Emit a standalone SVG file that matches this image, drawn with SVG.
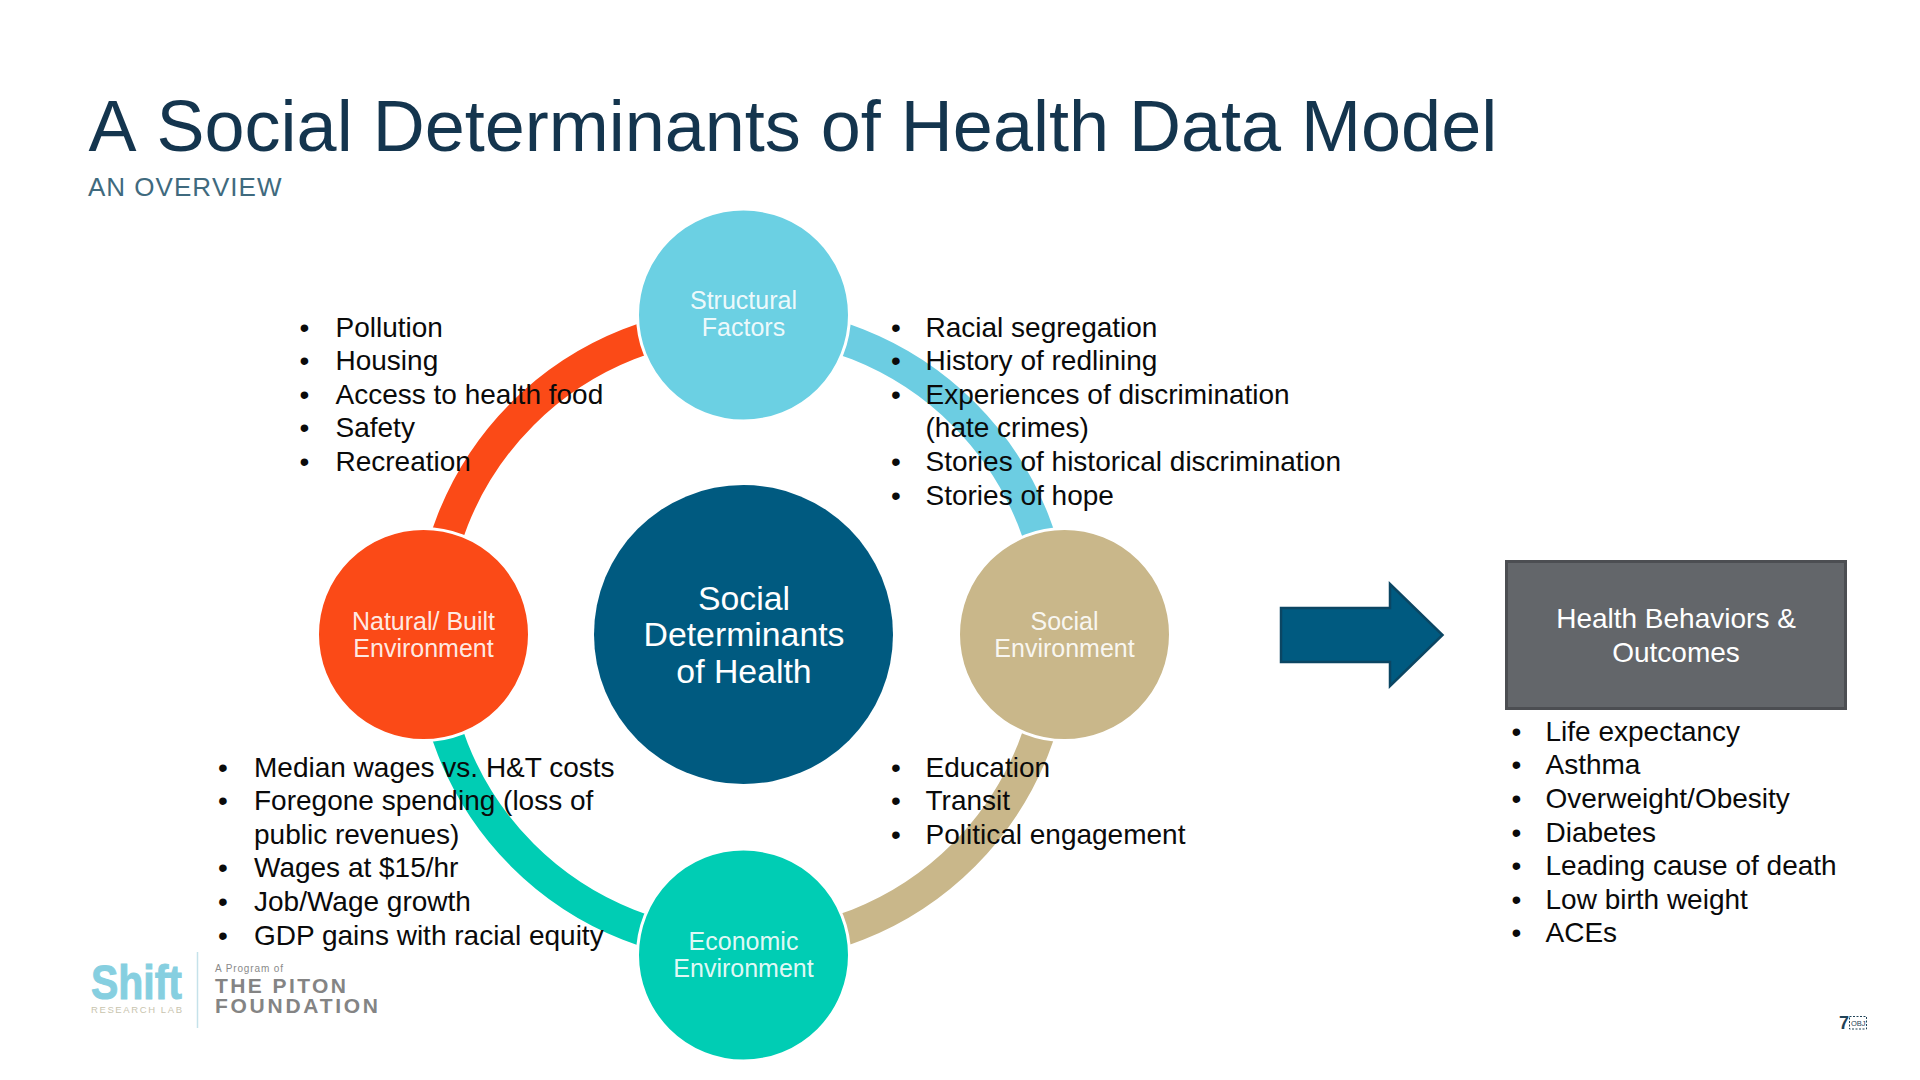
<svg xmlns="http://www.w3.org/2000/svg" width="1920" height="1080" viewBox="0 0 1920 1080">
<style>
text{font-family:"Liberation Sans",Arial,sans-serif}
.l{font-size:28px;fill:#0a0a0a}
.n{font-size:25px;text-anchor:middle;fill:#fff;fill-opacity:.9}
.c{font-size:33.800px;fill:#fff;text-anchor:middle}
.b{font-size:28px;fill:#fff;text-anchor:middle}
.arc{fill:none;stroke-width:32}
.node{stroke:#fff;stroke-width:3}
.t{font-kerning:none}
</style>
<rect width="1920" height="1080" fill="#fff"/>
<g id="heading">
<text class="t" x="88.500" y="150.500" font-size="72" fill="#14354e">A Social Determinants of Health Data Model</text>
<text class="t" x="88" y="196" font-size="26" fill="#3f6a7e" letter-spacing="1">AN OVERVIEW</text>
</g>
<g id="connectors">
<path class="arc" stroke="#6ccde2" d="M743 322.500A312 312 0 0 1 1055 634.500"/>
<path class="arc" stroke="#c9b78a" d="M1055 634.500A312 312 0 0 1 743 946.500"/>
<path class="arc" stroke="#00cdb4" d="M743 946.500A312 312 0 0 1 431 634.500"/>
<path class="arc" stroke="#fb4a17" d="M431 634.500A312 312 0 0 1 743 322.500"/>
</g>
<g id="structural"><circle class="node" cx="743.500" cy="315" r="106" fill="#6bd0e3"/><text class="n" x="743.500" y="309">Structural</text><text class="n" x="743.500" y="336">Factors</text></g>
<g id="natural"><circle class="node" cx="423.500" cy="634.500" r="106" fill="#fb4a17"/><text class="n" x="423.500" y="629.500">Natural/ Built</text><text class="n" x="423.500" y="656.500">Environment</text></g>
<g id="social"><circle class="node" cx="1064.500" cy="634.500" r="106" fill="#c9b78a"/><text class="n" x="1064.500" y="629.500">Social</text><text class="n" x="1064.500" y="656.500">Environment</text></g>
<g id="economic"><circle class="node" cx="743.500" cy="955" r="106" fill="#00cdb4"/><text class="n" x="743.500" y="950">Economic</text><text class="n" x="743.500" y="977">Environment</text></g>
<g id="center"><circle cx="743.500" cy="634.500" r="149.500" fill="#005a80"/><text class="c" x="744" y="610">Social</text><text class="c" x="744" y="646">Determinants</text><text class="c" x="744" y="683">of Health</text></g>
<g id="arrow"><path d="M1281 608H1390V584L1442.500 635L1390 686V662H1281Z" fill="#005a80" stroke="#0b4663" stroke-width="2.500"/></g>
<g id="outcomes-box"><rect x="1506.500" y="561.500" width="339" height="147" fill="#63666a" stroke="#4c4e52" stroke-width="3"/><text class="b" x="1676" y="628">Health Behaviors &amp;</text><text class="b" x="1676" y="662">Outcomes</text></g>
<g id="list-natural" transform="translate(0.500 0.500)">
<text class="l" x="299" y="336">•</text><text class="l" x="335" y="336">Pollution</text>
<text class="l" x="299" y="369.600">•</text><text class="l" x="335" y="369.600">Housing</text>
<text class="l" x="299" y="403.300">•</text><text class="l" x="335" y="403.300">Access to health food</text>
<text class="l" x="299" y="436.900">•</text><text class="l" x="335" y="436.900">Safety</text>
<text class="l" x="299" y="470.500">•</text><text class="l" x="335" y="470.500">Recreation</text>
</g>
<g id="list-structural" transform="translate(0 0.500)">
<text class="l" x="891" y="336">•</text><text class="l" x="925.500" y="336">Racial segregation</text>
<text class="l" x="891" y="369.600">•</text><text class="l" x="925.500" y="369.600">History of redlining</text>
<text class="l" x="891" y="403.200">•</text><text class="l" x="925.500" y="403.200">Experiences of discrimination</text>
<text class="l" x="925.500" y="436.800">(hate crimes)</text>
<text class="l" x="891" y="470.400">•</text><text class="l" x="925.500" y="470.400">Stories of historical discrimination</text>
<text class="l" x="891" y="504">•</text><text class="l" x="925.500" y="504">Stories of hope</text>
</g>
<g id="list-economic" transform="translate(0 0.500)">
<text class="l" x="218" y="776">•</text><text class="l" x="254" y="776">Median wages vs. H&amp;T costs</text>
<text class="l" x="218" y="809.600">•</text><text class="l" x="254" y="809.600">Foregone spending (loss of</text>
<text class="l" x="254" y="843.200">public revenues)</text>
<text class="l" x="218" y="876.800">•</text><text class="l" x="254" y="876.800">Wages at $15/hr</text>
<text class="l" x="218" y="910.400">•</text><text class="l" x="254" y="910.400">Job/Wage growth</text>
<text class="l" x="218" y="944">•</text><text class="l" x="254" y="944">GDP gains with racial equity</text>
</g>
<g id="list-social" transform="translate(0 0.500)">
<text class="l" x="891" y="776">•</text><text class="l" x="925.500" y="776">Education</text>
<text class="l" x="891" y="809.600">•</text><text class="l" x="925.500" y="809.600">Transit</text>
<text class="l" x="891" y="843.200">•</text><text class="l" x="925.500" y="843.200">Political engagement</text>
</g>
<g id="list-outcomes" transform="translate(0.500 0)">
<text class="l" x="1511" y="741">•</text><text class="l" x="1545" y="741">Life expectancy</text>
<text class="l" x="1511" y="774.400">•</text><text class="l" x="1545" y="774.400">Asthma</text>
<text class="l" x="1511" y="808">•</text><text class="l" x="1545" y="808">Overweight/Obesity</text>
<text class="l" x="1511" y="841.600">•</text><text class="l" x="1545" y="841.600">Diabetes</text>
<text class="l" x="1511" y="875.200">•</text><text class="l" x="1545" y="875.200">Leading cause of death</text>
<text class="l" x="1511" y="908.800">•</text><text class="l" x="1545" y="908.800">Low birth weight</text>
<text class="l" x="1511" y="942.400">•</text><text class="l" x="1545" y="942.400">ACEs</text>
</g>
<g id="logo">
<text x="91" y="999" font-size="48" font-weight="700" fill="#86cfe0" stroke="#86cfe0" stroke-width="1" textLength="91" lengthAdjust="spacingAndGlyphs">Shift</text>
<text x="91" y="1013" font-size="9.500" fill="#c8c4ae" textLength="91">RESEARCH LAB</text>
<path d="M197.500 952V1028" stroke="#c5e2ea" stroke-width="1.500"/>
<text x="215" y="972" font-size="10" fill="#8a8a8a" textLength="68">A Program of</text>
<text x="215" y="993" font-size="21" font-weight="700" fill="#848484" textLength="131">THE PITON</text>
<text x="215" y="1013" font-size="21" font-weight="700" fill="#848484" textLength="163">FOUNDATION</text>
</g>
<g id="page"><text x="1839" y="1029" font-size="18" font-weight="700" fill="#1f4257">7</text><rect x="1849.500" y="1016.500" width="17" height="12.500" fill="none" stroke="#1f4257" stroke-width="1" stroke-dasharray="2 1.500"/><text x="1851" y="1026" font-size="7.500" fill="#1f4257">OBJ</text></g>
</svg>
